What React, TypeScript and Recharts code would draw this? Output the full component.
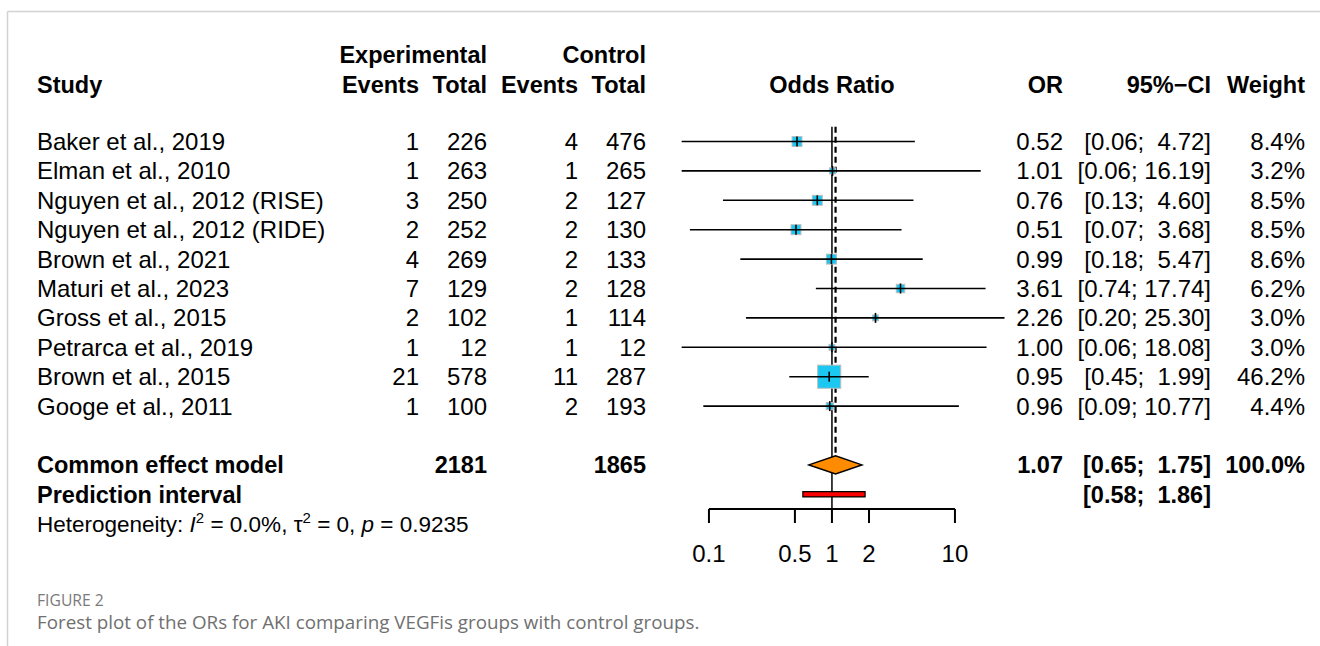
import React from 'react'
import { ComposedChart, Scatter, XAxis, YAxis, ReferenceLine, ReferenceArea } from 'recharts'

// study rows, top to bottom
const studies = [
  'Baker et al., 2019',
  'Elman et al., 2010',
  'Nguyen et al., 2012 (RISE)',
  'Nguyen et al., 2012 (RIDE)',
  'Brown et al., 2021',
  'Maturi et al., 2023',
  'Gross et al., 2015',
  'Petrarca et al., 2019',
  'Brown et al., 2015',
  'Googe et al., 2011',
]
const expEvents = [1, 1, 3, 2, 4, 7, 2, 1, 21, 1]
const expTotal = [226, 263, 250, 252, 269, 129, 102, 12, 578, 100]
const ctrlEvents = [4, 1, 2, 2, 2, 2, 1, 1, 11, 2]
const ctrlTotal = [476, 265, 127, 130, 133, 128, 114, 12, 287, 193]
const oddsRatio = [0.52, 1.01, 0.76, 0.51, 0.99, 3.61, 2.26, 1.0, 0.95, 0.96]
const ciLower = [0.06, 0.06, 0.13, 0.07, 0.18, 0.74, 0.2, 0.06, 0.45, 0.09]
const ciUpper = [4.72, 16.19, 4.6, 3.68, 5.47, 17.74, 25.3, 18.08, 1.99, 10.77]
const weight = [8.4, 3.2, 8.5, 8.5, 8.6, 6.2, 3.0, 3.0, 46.2, 4.4]

const pooled = { or: 1.07, lo: 0.65, hi: 1.75, expN: 2181, ctrlN: 1865, weight: 100 }
const predInterval = { lo: 0.58, hi: 1.86 }
const xTicks = [0.1, 0.5, 1, 2, 10]

const W = 1320
const H = 646
const FONT = '"Liberation Sans", Arial, Helvetica, sans-serif'
const CAPTION_FONT = '"Open Sans", "Noto Sans", sans-serif'
const ROW0 = 141.5
const ROW_H = 29.4
const Y_MIN = -1
const Y_MAX = 12.5
const SUMMARY_ROW = 11
const PRED_ROW = 12
const HET_ROW = 13
const X_AXIS_H = 60

// column anchors
const COL_STUDY = 37
const COL_EXP_EV = 419
const COL_EXP_TOT = 487
const COL_CTL_EV = 578
const COL_CTL_TOT = 646
const COL_PLOT_MID = 832
const COL_OR = 1063
const COL_CI = 1211
const COL_W = 1305

const plotTop = ROW0 + Y_MIN * ROW_H
const plotBottom = ROW0 + Y_MAX * ROW_H

const points = studies.map((_, i) => ({ x: oddsRatio[i], y: i, w: weight[i] }))

const pad = (v: number) => v.toFixed(2).padStart(5, ' ')
const ciText = (lo: number, hi: number) => `[${lo.toFixed(2)}; ${pad(hi)}]`
const baseline = (row: number) => ROW0 + row * ROW_H + 8.5

const diamondFrac =
  (Math.log(pooled.or) - Math.log(pooled.lo)) / (Math.log(pooled.hi) - Math.log(pooled.lo))

const Square = (p: any) => {
  const s = Math.sqrt(p.payload.w) * 3.4
  return (
    <rect x={p.cx - s / 2} y={p.cy - s / 2} width={s} height={s}
      fill="#1ac8f2" stroke="#bdbdbd" strokeWidth={1} />
  )
}
const Tick = (p: any) => (
  <line x1={p.cx} x2={p.cx} y1={p.cy - 5} y2={p.cy + 5} stroke="#000" strokeWidth={1.6} />
)
const Empty = () => <g />
const Diamond = (p: any) => {
  const cx = p.x + p.width * diamondFrac
  const cy = p.y + p.height / 2
  return (
    <polygon
      points={`${p.x},${cy} ${cx},${p.y} ${p.x + p.width},${cy} ${cx},${p.y + p.height}`}
      fill="#ff8c00" stroke="#000" strokeWidth={1.5} />
  )
}

function Txt({ x, y, anchor = 'start', bold = false, size = 24, children }: any) {
  return (
    <text x={x} y={y} textAnchor={anchor} fontWeight={bold ? 'bold' : 'normal'}
      fontSize={size} fill="#000" style={{ whiteSpace: 'pre' }}>
      {children}
    </text>
  )
}

export default function App() {
  return (
    <div style={{ position: 'absolute', left: 0, top: 0, width: W, height: H, background: '#fff' }}>
      <div style={{ position: 'absolute', left: 0, top: 0 }}>
        <ComposedChart width={W} height={H}
          margin={{ top: plotTop, right: 291, bottom: H - plotBottom - X_AXIS_H, left: 660 }}>
          <XAxis dataKey="x" type="number" scale="log" domain={[0.04, 40]} allowDataOverflow
            ticks={xTicks} interval={0} axisLine={false}
            tickLine={{ stroke: '#000', strokeWidth: 2 }} tickSize={14} tickMargin={22}
            height={X_AXIS_H} tick={{ fill: '#000', fontSize: 24, fontFamily: FONT }} />
          <YAxis dataKey="y" type="number" domain={[Y_MIN, Y_MAX]} reversed hide allowDataOverflow />

          <ReferenceLine segment={[{ x: 1, y: -0.5 }, { x: 1, y: Y_MAX }]} stroke="#000" strokeWidth={1.5} ifOverflow="visible" />
          <ReferenceLine segment={[{ x: pooled.or, y: -0.5 }, { x: pooled.or, y: SUMMARY_ROW - 0.31 }]}
            stroke="#000" strokeWidth={2.2} strokeDasharray="6 4" ifOverflow="visible" />
          <ReferenceLine segment={[{ x: xTicks[0], y: Y_MAX }, { x: xTicks[xTicks.length - 1], y: Y_MAX }]}
            stroke="#000" strokeWidth={2} ifOverflow="visible" />

          <ReferenceArea x1={pooled.lo} x2={pooled.hi} y1={SUMMARY_ROW - 0.31} y2={SUMMARY_ROW + 0.31}
            shape={Diamond} ifOverflow="visible" zIndex={700} />
          <ReferenceArea x1={predInterval.lo} x2={predInterval.hi} y1={PRED_ROW - 0.09} y2={PRED_ROW + 0.09}
            fill="#ff0000" fillOpacity={1} stroke="#000" strokeWidth={1.2} ifOverflow="visible" zIndex={700} />

          <Scatter data={points} shape={Square} isAnimationActive={false} />
          {studies.map((s, i) => (
            <Scatter key={s} data={[{ x: ciLower[i], y: i }, { x: ciUpper[i], y: i }]}
              line={{ stroke: '#000', strokeWidth: 1.6 }} shape={Empty} isAnimationActive={false} />
          ))}
          <Scatter data={points} shape={Tick} isAnimationActive={false} />
        </ComposedChart>
      </div>

      <svg width={W} height={H} style={{ position: 'absolute', left: 0, top: 0, pointerEvents: 'none' }}
        fontFamily={FONT}>
        <line x1={7.5} y1={11.5} x2={W} y2={11.5} stroke="#d2d2d2" strokeWidth={1.5} />
        <line x1={7.5} y1={11.5} x2={7.5} y2={H} stroke="#d2d2d2" strokeWidth={1.5} />

        <Txt x={COL_EXP_TOT} y={63} anchor="end" bold size={23.5}>Experimental</Txt>
        <Txt x={COL_CTL_TOT} y={63} anchor="end" bold size={23.5}>Control</Txt>
        <Txt x={COL_STUDY} y={93} bold size={23.5}>Study</Txt>
        <Txt x={COL_EXP_EV} y={93} anchor="end" bold size={23.5}>Events</Txt>
        <Txt x={COL_EXP_TOT} y={93} anchor="end" bold size={23.5}>Total</Txt>
        <Txt x={COL_CTL_EV} y={93} anchor="end" bold size={23.5}>Events</Txt>
        <Txt x={COL_CTL_TOT} y={93} anchor="end" bold size={23.5}>Total</Txt>
        <Txt x={COL_PLOT_MID} y={93} anchor="middle" bold size={23.5}>Odds Ratio</Txt>
        <Txt x={COL_OR} y={93} anchor="end" bold size={23.5}>OR</Txt>
        <Txt x={COL_CI} y={93} anchor="end" bold size={23.5}>95%−CI</Txt>
        <Txt x={COL_W} y={93} anchor="end" bold size={23.5}>Weight</Txt>

        {studies.map((s, i) => (
          <g key={s}>
            <Txt x={COL_STUDY} y={baseline(i)}>{s}</Txt>
            <Txt x={COL_EXP_EV} y={baseline(i)} anchor="end">{expEvents[i]}</Txt>
            <Txt x={COL_EXP_TOT} y={baseline(i)} anchor="end">{expTotal[i]}</Txt>
            <Txt x={COL_CTL_EV} y={baseline(i)} anchor="end">{ctrlEvents[i]}</Txt>
            <Txt x={COL_CTL_TOT} y={baseline(i)} anchor="end">{ctrlTotal[i]}</Txt>
            <Txt x={COL_OR} y={baseline(i)} anchor="end">{oddsRatio[i].toFixed(2)}</Txt>
            <Txt x={COL_CI} y={baseline(i)} anchor="end">{ciText(ciLower[i], ciUpper[i])}</Txt>
            <Txt x={COL_W} y={baseline(i)} anchor="end">{`${weight[i].toFixed(1)}%`}</Txt>
          </g>
        ))}

        <Txt x={COL_STUDY} y={baseline(SUMMARY_ROW)} bold size={23.5}>Common effect model</Txt>
        <Txt x={COL_EXP_TOT} y={baseline(SUMMARY_ROW)} anchor="end" bold size={23.5}>{pooled.expN}</Txt>
        <Txt x={COL_CTL_TOT} y={baseline(SUMMARY_ROW)} anchor="end" bold size={23.5}>{pooled.ctrlN}</Txt>
        <Txt x={COL_OR} y={baseline(SUMMARY_ROW)} anchor="end" bold size={23.5}>{pooled.or.toFixed(2)}</Txt>
        <Txt x={COL_CI} y={baseline(SUMMARY_ROW)} anchor="end" bold size={23.5}>{ciText(pooled.lo, pooled.hi)}</Txt>
        <Txt x={COL_W} y={baseline(SUMMARY_ROW)} anchor="end" bold size={23.5}>{`${pooled.weight.toFixed(1)}%`}</Txt>

        <Txt x={COL_STUDY} y={baseline(PRED_ROW)} bold size={23.5}>Prediction interval</Txt>
        <Txt x={COL_CI} y={baseline(PRED_ROW)} anchor="end" bold size={23.5}>{ciText(predInterval.lo, predInterval.hi)}</Txt>

        <text x={COL_STUDY} y={baseline(HET_ROW)} fontSize={22.5} fill="#000" style={{ whiteSpace: 'pre' }}>
          Heterogeneity: <tspan fontStyle="italic">I</tspan>
          <tspan dy={-9} fontSize={15}>2</tspan>
          <tspan dy={9}> = 0.0%, τ</tspan>
          <tspan dy={-9} fontSize={15}>2</tspan>
          <tspan dy={9}> = 0, </tspan>
          <tspan fontStyle="italic">p</tspan>
          <tspan> = 0.9235</tspan>
        </text>

        <text x={COL_STUDY} y={606} fontSize={15.7} fill="#7a7a7a" fontFamily={CAPTION_FONT}>FIGURE 2</text>
        <text x={COL_STUDY} y={629} fontSize={18.8} fill="#707070" fontFamily={CAPTION_FONT}>
          Forest plot of the ORs for AKI comparing VEGFis groups with control groups.
        </text>
      </svg>
    </div>
  )
}
